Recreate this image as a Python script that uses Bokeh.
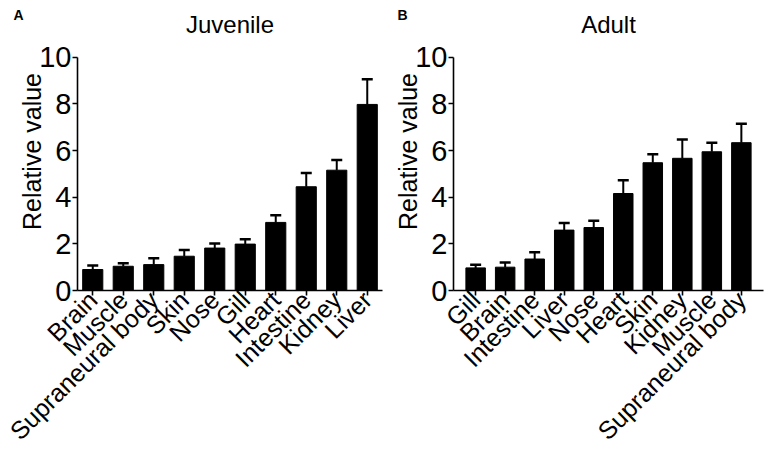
import math
from bokeh.plotting import figure
from bokeh.models import (Range1d, FactorRange, Whisker, TeeHead, ColumnDataSource,
                          Label, LinearAxis, FixedTicker)
from bokeh.layouts import row
from bokeh.embed import file_html
from bokeh.resources import INLINE

# ---- data ----
juv_cats = ["Brain", "Muscle", "Supraneural body", "Skin", "Nose", "Gill",
            "Heart", "Intestine", "Kidney", "Liver"]
juv_vals = [0.90, 1.04, 1.11, 1.47, 1.82, 1.99, 2.92, 4.45, 5.16, 7.98]
juv_sem = [0.17, 0.13, 0.27, 0.27, 0.20, 0.21, 0.31, 0.59, 0.44, 1.08]

adult_cats = ["Gill", "Brain", "Intestine", "Liver", "Nose", "Heart",
              "Skin", "Kidney", "Muscle", "Supraneural body"]
adult_vals = [0.97, 1.00, 1.35, 2.59, 2.70, 4.16, 5.48, 5.67, 5.95, 6.34]
adult_sem = [0.13, 0.20, 0.29, 0.30, 0.29, 0.57, 0.36, 0.81, 0.39, 0.81]

y_ticks = [0, 2, 4, 6, 8, 10]
y_max = 10

FONT = "Liberation Sans"

H = 457
TOP = 12          # canvas y of frame top
BOTTOM = 166      # bottom border
Y0_PX = H - BOTTOM  # canvas y of value 0
Y10_PX = 57         # canvas y of value 10
y_end = y_max * (Y0_PX - TOP) / (Y0_PX - Y10_PX)
title_y = y_max * (Y0_PX - 23.6) / (Y0_PX - Y10_PX)


def panel(cats, vals, sem, title, letter, width, border_left, pad):
    src = ColumnDataSource(dict(
        x=cats, top=vals,
        upper=[v + s for v, s in zip(vals, sem)],
    ))
    p = figure(x_range=FactorRange(factors=cats, range_padding=pad,
                                   range_padding_units="absolute"),
               y_range=Range1d(0, y_end),
               width=width, height=H,
               output_backend="svg", toolbar_location=None,
               min_border_left=border_left, min_border_right=2,
               min_border_top=TOP, min_border_bottom=BOTTOM)
    p.vbar(x="x", top="top", bottom=0, width=0.66, source=src,
           fill_color="black", line_color="black")
    w = Whisker(base="x", lower="top", upper="upper", source=src,
                line_color="black", line_width=2,
                upper_head=TeeHead(size=11, line_color="black", line_width=2.5),
                lower_head=None)
    p.add_layout(w)

    # panel letter as the plot title (left of the frame)
    p.title.text = letter
    p.title.align = "left"
    p.title.offset = -(border_left - 13)
    p.title.text_font = FONT
    p.title.text_font_size = "14px"
    p.title.text_font_style = "bold"
    p.title.text_color = "black"
    p.title.standoff = -21

    # panel heading
    p.add_layout(Label(x=len(cats) / 2, y=title_y, text=title,
                       text_font=FONT, text_font_size="24px",
                       text_color="black", text_align="center",
                       text_baseline="middle"))

    p.xgrid.visible = False
    p.ygrid.visible = False
    p.outline_line_color = None

    for ax in (p.xaxis[0], p.yaxis[0]):
        ax.axis_line_width = 1.6
        ax.axis_line_color = "black"
        ax.major_tick_line_width = 1.6
        ax.major_tick_line_color = "black"
        ax.major_tick_out = 5
        ax.major_tick_in = 0
        ax.minor_tick_line_color = None
        ax.major_label_text_color = "black"
        ax.major_label_text_font = FONT

    p.yaxis.ticker = y_ticks
    p.yaxis.bounds = (0, y_max)
    p.yaxis.major_label_text_font_size = "29px"
    p.yaxis.major_label_standoff = 1

    # axis title on its own (tickless) axis so it can sit slightly above centre
    lab_axis = LinearAxis(ticker=FixedTicker(ticks=[]), bounds=(1.0, y_max),
                          axis_line_color=None, major_tick_line_color=None,
                          minor_tick_line_color=None,
                          major_label_text_color=None,
                          axis_label="Relative value",
                          axis_label_text_font=FONT,
                          axis_label_text_font_size="25px",
                          axis_label_text_font_style="normal",
                          axis_label_text_color="black",
                          axis_label_standoff=-9)
    p.add_layout(lab_axis, "left")

    p.xaxis.major_label_orientation = math.pi / 4
    p.xaxis.major_label_text_font_size = "25px"
    p.xaxis.major_label_standoff = 0
    return p


pa = panel(juv_cats, juv_vals, juv_sem, "Juvenile", "A", 384, 77, 0.0)
pb = panel(adult_cats, adult_vals, adult_sem, "Adult", "B", 381, 69, 0.25)

layout = row(pa, pb)
open("out.html", "w").write(file_html(layout, INLINE))
